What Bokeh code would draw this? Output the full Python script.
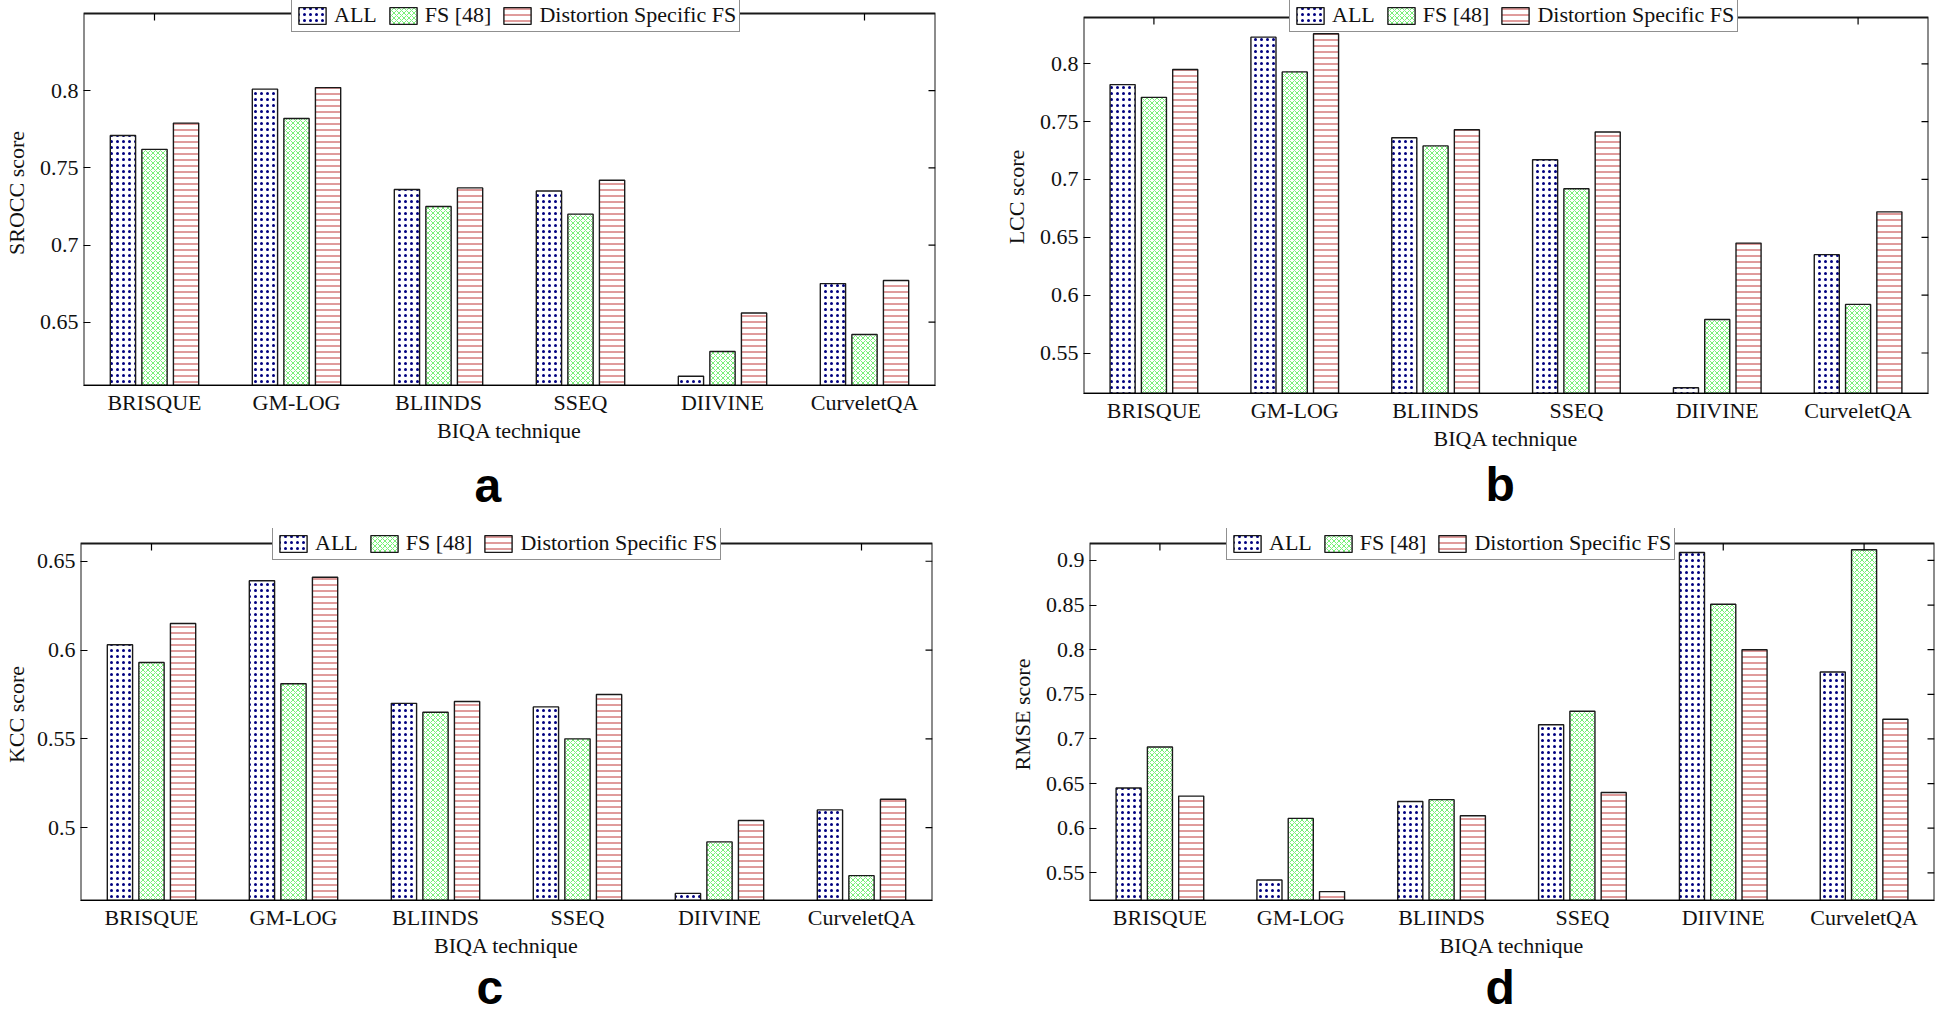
import math
from bokeh.plotting import figure
from bokeh.models import (FactorRange, Range1d, FixedTicker, Legend, LegendItem,
                          Title, BoxAnnotation, ColumnDataSource)
from bokeh.transform import dodge
from bokeh.layouts import column, row
from bokeh.embed import file_html
from bokeh.resources import INLINE

# ---------------- data ----------------
methods = ["BRISQUE", "GM-LOG", "BLIINDS", "SSEQ", "DIIVINE", "CurveletQA"]
series = ["ALL", "FS [48]", "Distortion Specific FS"]
xlabel = "BIQA technique"

srocc_all = [0.771, 0.801, 0.736, 0.735, 0.615, 0.675]
srocc_fs = [0.762, 0.782, 0.725, 0.720, 0.631, 0.642]
srocc_ds = [0.779, 0.802, 0.737, 0.742, 0.656, 0.677]
srocc_ticks = [0.65, 0.7, 0.75, 0.8]
srocc_tick_labels = ["0.65", "0.7", "0.75", "0.8"]
srocc_lim = [0.609, 0.85]

lcc_all = [0.782, 0.823, 0.736, 0.717, 0.520, 0.635]
lcc_fs = [0.771, 0.793, 0.729, 0.692, 0.579, 0.592]
lcc_ds = [0.795, 0.826, 0.743, 0.741, 0.645, 0.672]
lcc_ticks = [0.55, 0.6, 0.65, 0.7, 0.75, 0.8]
lcc_tick_labels = ["0.55", "0.6", "0.65", "0.7", "0.75", "0.8"]
lcc_lim = [0.515, 0.84]

kcc_all = [0.603, 0.639, 0.570, 0.568, 0.463, 0.510]
kcc_fs = [0.593, 0.581, 0.565, 0.550, 0.492, 0.473]
kcc_ds = [0.615, 0.641, 0.571, 0.575, 0.504, 0.516]
kcc_ticks = [0.5, 0.55, 0.6, 0.65]
kcc_tick_labels = ["0.5", "0.55", "0.6", "0.65"]
kcc_lim = [0.459, 0.66]

rmse_all = [0.645, 0.542, 0.630, 0.716, 0.909, 0.775]
rmse_fs = [0.691, 0.611, 0.632, 0.731, 0.851, 0.912]
rmse_ds = [0.636, 0.529, 0.614, 0.640, 0.800, 0.722]
rmse_ticks = [0.55, 0.6, 0.65, 0.7, 0.75, 0.8, 0.85, 0.9]
rmse_tick_labels = ["0.55", "0.6", "0.65", "0.7", "0.75", "0.8", "0.85", "0.9"]
rmse_lim = [0.519, 0.919]

SERIF = "Liberation Serif"
FS = "22px"
INK = "#111111"
LEG_H = 32     # approximate legend height in px


def make_panel(v_all, v_fs, v_ds, ylabel, ylim, yticks, ytick_labels, letter,
               fw, fh, head, bl, br, bt, bb, leg_x, letter_off, letter_standoff,
               ylab_standoff):
    src = ColumnDataSource(dict(m=methods, a=v_all, f=v_fs, d=v_ds))
    box_px = fh - head
    y_end = ylim[1] + head / box_px * (ylim[1] - ylim[0])
    p = figure(x_range=FactorRange(*methods), y_range=Range1d(ylim[0], y_end),
               frame_width=fw, frame_height=fh, output_backend="svg", toolbar_location=None,
               min_border_left=bl, min_border_right=br, min_border_top=bt, min_border_bottom=bb,
               background_fill_color="white", border_fill_color="white")
    p.xgrid.visible = False
    p.ygrid.visible = False
    p.outline_line_color = None

    common = dict(source=src, bottom=0, width=0.178, fill_color="white",
                  line_color="#1a1a1a", line_width=1.4)
    r1 = p.vbar(x=dodge("m", -0.2222, range=p.x_range), top="a",
                hatch_pattern="dot", hatch_color="#00007f", hatch_scale=6, hatch_weight=2.3,
                **common)
    r2 = p.vbar(x=dodge("m", 0.0, range=p.x_range), top="f",
                hatch_pattern="diagonal_cross", hatch_color="#78f078", hatch_scale=5,
                hatch_weight=1.0, **common)
    r3 = p.vbar(x=dodge("m", 0.2222, range=p.x_range), top="d",
                hatch_pattern="horizontal_line", hatch_color="#c03838", hatch_scale=6,
                hatch_weight=1.0, **common)

    # top ticks at the categories, pointing down from the box top
    p.ray(x="m", y=ylim[1], length=7, length_units="screen", angle=-math.pi / 2,
          line_color="black", line_width=1.2, source=src)
    # right-hand ticks at the y tick values, pointing left from the box's right edge
    rt = ColumnDataSource(dict(c=[methods[-1]] * len(yticks), y=yticks))
    p.ray(x=dodge("c", 0.5, range=p.x_range), y="y", length=7, length_units="screen",
          angle=math.pi, line_color="black", line_width=1.2, source=rt)

    # axes box
    p.add_layout(BoxAnnotation(bottom=ylim[0], top=ylim[1], fill_alpha=0,
                               line_color="black", line_width=2.0, line_alpha=0.9))

    # left axis
    ya = p.yaxis[0]
    ya.ticker = FixedTicker(ticks=yticks)
    ya.major_label_overrides = dict(zip(yticks, ytick_labels))
    ya.major_tick_in = 7
    ya.major_tick_out = 0
    ya.minor_tick_in = 0
    ya.minor_tick_out = 0
    ya.axis_line_color = None
    ya.major_tick_line_color = "black"
    ya.major_label_text_font = SERIF
    ya.major_label_text_font_size = FS
    ya.major_label_text_color = INK
    ya.major_label_standoff = 5
    ya.axis_label = ylabel
    ya.axis_label_text_font = SERIF
    ya.axis_label_text_font_size = FS
    ya.axis_label_text_font_style = "normal"
    ya.axis_label_text_color = INK
    ya.axis_label_standoff = ylab_standoff

    # bottom axis
    xa = p.xaxis[0]
    xa.major_tick_in = 0
    xa.major_tick_out = 0
    xa.axis_line_color = "black"
    xa.axis_line_width = 1.2
    xa.major_label_text_font = SERIF
    xa.major_label_text_font_size = FS
    xa.major_label_text_color = INK
    xa.major_label_standoff = 4
    xa.axis_label = xlabel
    xa.axis_label_text_font = SERIF
    xa.axis_label_text_font_size = FS
    xa.axis_label_text_font_style = "normal"
    xa.axis_label_text_color = INK
    xa.axis_label_standoff = 0

    legend = Legend(items=[LegendItem(label=series[0], renderers=[r1]),
                           LegendItem(label=series[1], renderers=[r2]),
                           LegendItem(label=series[2], renderers=[r3])],
                    orientation="horizontal", location=(leg_x, fh - LEG_H),
                    padding=3, spacing=9, margin=0, label_standoff=5,
                    glyph_width=34, glyph_height=21, label_height=21,
                    label_text_font=SERIF, label_text_font_size=FS, label_text_color=INK,
                    border_line_color="#222222", border_line_width=1.2,
                    background_fill_color="white", background_fill_alpha=1.0)
    p.add_layout(legend, "center")

    p.add_layout(Title(text=letter, align="left", vertical_align="top", offset=letter_off,
                       standoff=letter_standoff,
                       text_font="Liberation Sans", text_font_style="bold",
                       text_font_size="48px", text_color="black"), "below")
    return p


# top row
pa = make_panel(srocc_all, srocc_fs, srocc_ds, "SROCC score", srocc_lim, srocc_ticks,
                srocc_tick_labels, "a", 852, 385, 13, 79, 59, 0, 10, 208, 391, 27, 8)
pb = make_panel(lcc_all, lcc_fs, lcc_ds, "LCC score", lcc_lim, lcc_ticks,
                lcc_tick_labels, "b", 845, 393, 17, 89, 3, 0, 10, 206, 402, 9, 8)
# bottom row
pc = make_panel(kcc_all, kcc_fs, kcc_ds, "KCC score", kcc_lim, kcc_ticks,
                kcc_tick_labels, "c", 852, 372, 15, 71, 67, 1, 111, 192, 396, 0, 5)
pd = make_panel(rmse_all, rmse_fs, rmse_ds, "RMSE score", rmse_lim, rmse_ticks,
                rmse_tick_labels, "d", 845, 372, 15, 90, 2, 1, 111, 137, 396, 0, 8)

layout = column(row(pa, pb), row(pc, pd))
open("out.html", "w").write(file_html(layout, INLINE))
